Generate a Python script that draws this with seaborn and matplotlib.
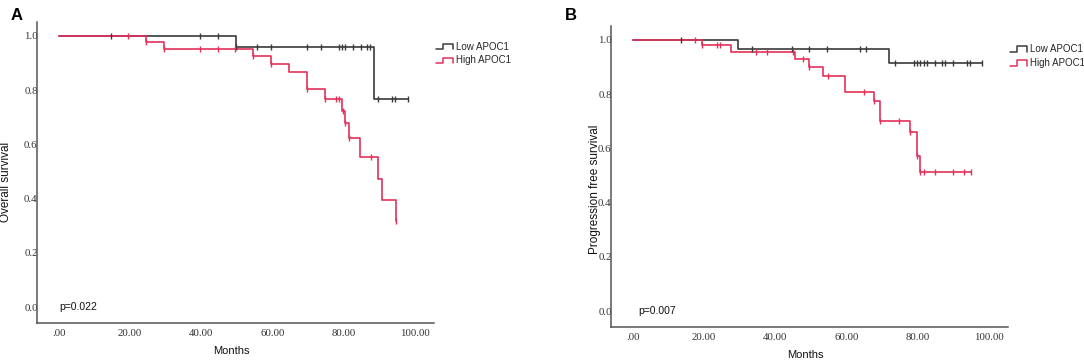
import numpy as np
import pandas as pd
import matplotlib
matplotlib.use("Agg")
import matplotlib.pyplot as plt
import seaborn as sns
from matplotlib.lines import Line2D
from matplotlib.legend_handler import HandlerBase

sns.set_theme(style="white")
plt.rcParams["font.family"] = ["Liberation Sans", "DejaVu Sans"]

# ---------------- data ----------------
groups = ["Low APOC1", "High APOC1"]
colors = {"Low APOC1": "#3a3a3a", "High APOC1": "#e2315a"}

# Panel A: overall survival
a_low_times = [0.0, 49.6, 88.6]
a_low_surv = [1.0, 0.958, 0.768]
a_low_end = 97.9
a_low_cens = [14.6, 39.7, 44.6, 49.6, 55.6, 59.6, 69.6, 73.5, 78.6, 79.4, 80.3,
              82.7, 84.8, 86.6, 87.4, 89.5, 93.6, 94.4, 97.9]

a_high_times = [0.0, 24.5, 29.6, 54.4, 59.5, 64.7, 69.6, 74.6, 79.5, 80.4, 81.4,
                84.6, 89.5, 90.7, 94.7]
a_high_surv = [1.0, 0.978, 0.953, 0.927, 0.897, 0.866, 0.803, 0.766, 0.724, 0.678,
               0.622, 0.552, 0.472, 0.394, 0.316]
a_high_end = 94.7
a_high_cens = [19.5, 24.5, 29.6, 39.7, 44.6, 49.5, 54.4, 59.5, 69.6, 74.6, 77.8,
               78.6, 79.9, 80.4, 81.4, 87.6, 94.7]

# Panel B: progression free survival
b_low_times = [0.0, 29.6, 71.8]
b_low_surv = [1.0, 0.965, 0.916]
b_low_end = 98.0
b_low_cens = [13.5, 33.6, 44.6, 49.5, 54.6, 63.7, 65.5, 73.7, 78.8, 79.7, 80.7,
              81.6, 82.6, 84.9, 86.8, 87.7, 89.9, 93.8, 94.7, 98.0]

b_high_times = [0.0, 19.5, 27.6, 45.4, 49.5, 53.3, 59.6, 67.6, 69.5, 77.7, 79.8, 80.5]
b_high_surv = [1.0, 0.980, 0.955, 0.928, 0.899, 0.866, 0.807, 0.774, 0.700, 0.660,
               0.571, 0.514]
b_high_end = 95.0
b_high_cens = [17.6, 19.5, 23.7, 24.6, 34.6, 37.7, 44.9, 47.7, 49.5, 54.7, 64.8,
               67.6, 69.5, 74.8, 77.7, 79.8, 80.7, 81.6, 84.9, 89.9, 92.9, 95.0]

x_ticks = [0, 20, 40, 60, 80, 100]
x_ticklabels = [".00", "20.00", "40.00", "60.00", "80.00", "100.00"]
y_ticks = [0.0, 0.2, 0.4, 0.6, 0.8, 1.0]
y_ticklabels = ["0.0", "0.2", "0.4", "0.6", "0.8", "1.0"]

panels = [
    {"letter": "A", "ylabel": "Overall survival", "p": "p=0.022", "px": 0.2,
     "low": (a_low_times, a_low_surv, a_low_end, a_low_cens),
     "high": (a_high_times, a_high_surv, a_high_end, a_high_cens)},
    {"letter": "B", "ylabel": "Progression free survival", "p": "p=0.007", "px": 1.5,
     "low": (b_low_times, b_low_surv, b_low_end, b_low_cens),
     "high": (b_high_times, b_high_surv, b_high_end, b_high_cens)},
]


def curve_frames(name, times, surv, end, cens):
    t = np.array(list(times) + [end])
    s = np.array(list(surv) + [surv[-1]])
    line = pd.DataFrame({"time": t, "surv": s, "group": name})
    idx = np.searchsorted(np.array(times), np.array(cens), side="right") - 1
    cdf = pd.DataFrame({"time": cens, "surv": np.array(surv)[idx], "group": name})
    return line, cdf


class StepHandler(HandlerBase):
    def create_artists(self, legend, orig_handle, xdescent, ydescent, width,
                       height, fontsize, trans):
        xs = np.array([0, 0.42, 0.42, 1.0, 1.0]) * width - xdescent
        ys = np.array([0.05, 0.05, 0.85, 0.85, 0.05]) * height - ydescent
        ln = Line2D(xs, ys, color=orig_handle.get_color(), lw=1.1)
        ln.set_transform(trans)
        return [ln]


W, H = 1084, 361
fig = plt.figure(figsize=(W / 100, H / 100), dpi=100)
fig.patch.set_facecolor("white")

axes_px = [(37, 22, 397, 301), (611, 26, 397, 301)]  # left, top, width, height
legend_top = [0.935, 0.94]
letter_pos = [(17, 15.6), (571, 15.6)]
ylabel_x = [-0.062, -0.024]
ylabel_y = [0.47, 0.456]

for i, pnl in enumerate(panels):
    l, t, w, h = axes_px[i]
    ax = fig.add_axes([l / W, (H - t - h) / H, w / W, h / H])
    ax.set_facecolor("white")

    lines, cens = [], []
    for g, key in zip(groups, ["low", "high"]):
        ldf, cdf = curve_frames(g, *pnl[key])
        lines.append(ldf)
        cens.append(cdf)
    ldf = pd.concat(lines, ignore_index=True)
    cdf = pd.concat(cens, ignore_index=True)

    for g in groups:
        sns.lineplot(data=ldf[ldf.group == g], x="time", y="surv", color=colors[g],
                     drawstyle="steps-post", estimator=None, sort=False,
                     legend=False, ax=ax, lw=1.2)
        sns.scatterplot(data=cdf[cdf.group == g], x="time", y="surv", color=colors[g],
                        marker="|", s=24, linewidth=1.0, legend=False, ax=ax, zorder=3)

    ax.set_xlim(-6.1, 105.3)
    ax.set_ylim(-0.059, 1.051)
    ax.set_xticks(x_ticks)
    ax.set_xticklabels(x_ticklabels, family="Liberation Serif", fontsize=7.8, color="#333333")
    ax.set_yticks(y_ticks)
    ax.set_yticklabels(y_ticklabels, family="Liberation Serif", fontsize=7.8, color="#333333")
    ax.tick_params(axis="both", length=0)
    ax.tick_params(axis="y", pad=-0.5)
    ax.tick_params(axis="x", pad=4)
    for s in ["top", "right"]:
        ax.spines[s].set_visible(False)
    for s in ["left", "bottom"]:
        ax.spines[s].set_color("#555555")
        ax.spines[s].set_linewidth(1.1)

    ax.set_xlabel("Months", fontsize=8, color="#111111")
    ax.xaxis.set_label_coords(0.49, -0.076)
    ax.set_ylabel(pnl["ylabel"], fontsize=8.5, color="#111111")
    ax.yaxis.set_label_coords(ylabel_x[i], ylabel_y[i])

    ax.text(pnl["px"], 0.0, pnl["p"], fontsize=7.5, color="#111111",
            ha="left", va="center")

    handles = [Line2D([], [], color=colors[g]) for g in groups]
    ax.legend(handles, groups, handler_map={Line2D: StepHandler()},
              loc="upper left", bbox_to_anchor=(1.004, legend_top[i]),
              frameon=False, fontsize=7, handlelength=1.75, handleheight=0.7,
              handletextpad=0.35, borderpad=0, borderaxespad=0, labelspacing=0.4)

    lx, ly = letter_pos[i]
    fig.text(lx / W, 1 - ly / H, pnl["letter"], fontsize=12, fontweight="bold",
             ha="center", va="center", color="black")

fig.savefig("out.png", dpi=100, facecolor="white")
